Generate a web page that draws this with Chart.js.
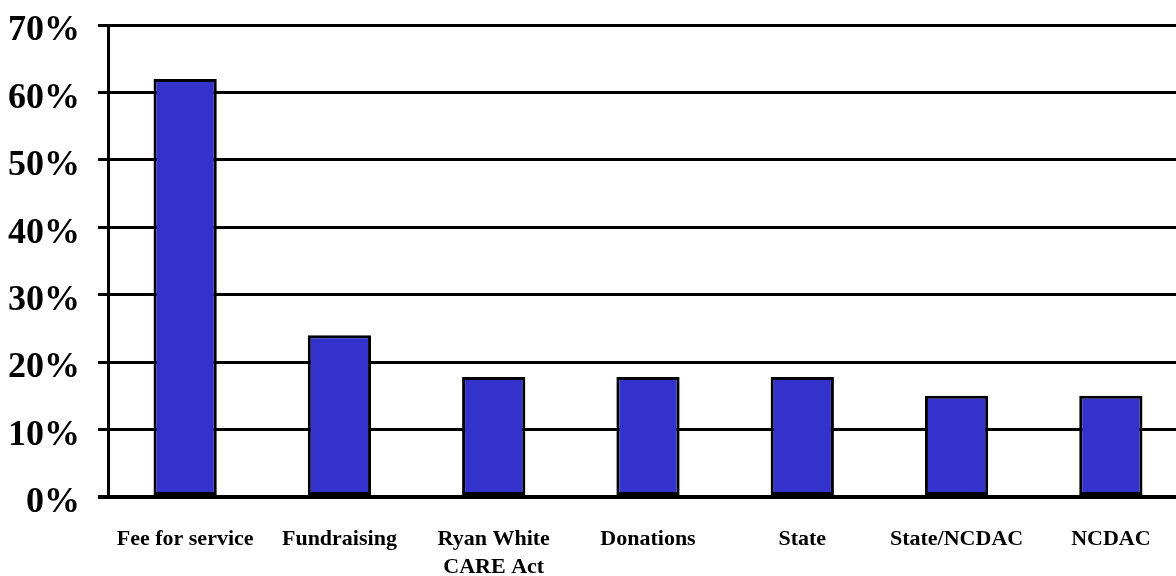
<!DOCTYPE html>
<html>
<head>
<meta charset="utf-8">
<script src="https://cdn.jsdelivr.net/npm/chart.js@4"></script>
<style>
  html, body { margin: 0; padding: 0; background: #fff; overflow: hidden; }
  #wrap { width: 1188px; height: 576px; }
</style>
</head>
<body>
<div id="wrap"><canvas id="chartFuentes"></canvas></div>
<script>
const categorias = ['Fee for service', 'Fundraising', ['Ryan White', 'CARE Act'], 'Donations', 'State', 'State/NCDAC', 'NCDAC'];
const porcentajes = [62, 24, 17.8, 17.8, 17.8, 15, 15];
const ticksY = [0, 10, 20, 30, 40, 50, 60, 70];

const fuente = "'Liberation Serif', 'Times New Roman', serif";

const ctx = document.getElementById('chartFuentes').getContext('2d');
const chartFuentes = new Chart(ctx, {
   type: 'bar',
   data: {
      labels: categorias,
      datasets: [{
         data: porcentajes,
         backgroundColor: '#3333CC',
         borderColor: '#000000',
         borderWidth: 3,
         borderSkipped: false,
         categoryPercentage: 1,
         barPercentage: 0.41
      }]
   },
   options: {
      responsive: true,
      maintainAspectRatio: false,
      animation: false,
      layout: {
         padding: { top: 25, right: 0, left: 0, bottom: 0 }
      },
      plugins: {
         legend: { display: false },
         title: { display: false },
         tooltip: { enabled: false }
      },
      scales: {
         x: {
            grid: { display: false },
            border: { display: false },
            ticks: {
               color: '#000',
               maxRotation: 0,
               autoSkip: false,
               padding: 20,
               font: { family: fuente, size: 22, weight: 'bold', lineHeight: 1.27 }
            },
            afterFit: (scale) => { scale.height = 79; }
         },
         y: {
            min: ticksY[0],
            max: ticksY[ticksY.length - 1],
            afterBuildTicks: (scale) => { scale.ticks = ticksY.map(v => ({ value: v })); },
            grid: {
               color: '#000',
               lineWidth: (c) => (c.tick && c.tick.value === 0 ? 4 : 3),
               tickLength: 10
            },
            border: { display: true, color: '#000', width: 3 },
            ticks: {
               color: '#000',
               padding: 18,
               labelOffset: 6,
               font: { family: fuente, size: 36, weight: 'bold' },
               callback: (v) => v + '%'
            },
            afterFit: (scale) => {
               scale.width = 108;
               scale.paddingTop = 0;
               scale.paddingBottom = 0;
            }
         }
      }
   }
});
</script>
</body>
</html>
